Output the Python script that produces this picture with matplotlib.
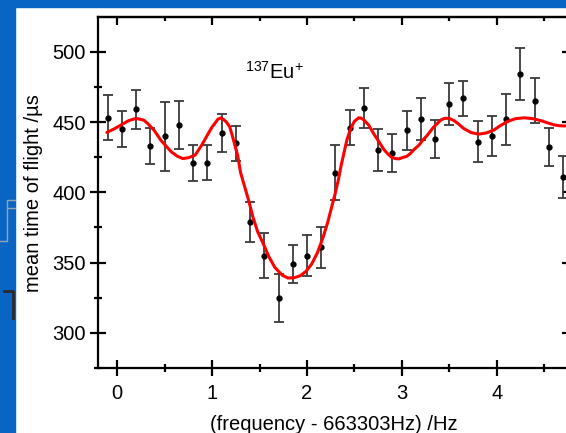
import numpy as np
import matplotlib.pyplot as plt
from matplotlib.lines import Line2D
from matplotlib.ticker import MultipleLocator

plt.rcParams['font.family'] = ['Liberation Sans', 'DejaVu Sans']
plt.rcParams['mathtext.fontset'] = 'custom'
plt.rcParams['mathtext.rm'] = 'Liberation Sans'

# measured points: frequency offset (Hz), mean time of flight (us), error (us)
freq = [-0.10, 0.05, 0.20, 0.35, 0.50, 0.65, 0.80, 0.95, 1.10, 1.25,
        1.40, 1.55, 1.70, 1.85, 2.00, 2.15, 2.30, 2.45, 2.60, 2.75,
        2.90, 3.05, 3.20, 3.35, 3.50, 3.65, 3.80, 3.95, 4.10, 4.25,
        4.40, 4.55, 4.70]
tof = [453, 445, 459, 433, 440, 448, 421, 421, 442, 435,
       379, 355, 325, 349, 355, 361, 414, 446, 460, 430,
       428, 444, 452, 438, 463, 467, 436, 440, 452, 484,
       465, 432, 411]
err = [16, 12.5, 14, 13, 24.5, 17, 12.7, 12.5, 13.5, 12.5,
       14.4, 16, 17, 13.3, 14.8, 14.5, 19.3, 12.4, 14.3, 15,
       13.3, 13.6, 15, 13.3, 15, 12.5, 14.6, 14, 18, 18.5,
       16, 13.6, 15]

# fitted curve
fit_x = [-0.11, -0.03, 0.04, 0.12, 0.20, 0.28, 0.32, 0.39, 0.46, 0.52,
         0.57, 0.63, 0.69, 0.75, 0.82, 0.89, 0.96, 1.00, 1.04, 1.06,
         1.09, 1.12, 1.15, 1.185, 1.21, 1.24, 1.27, 1.30, 1.344, 1.39,
         1.43, 1.48, 1.54, 1.60, 1.66, 1.70, 1.74, 1.80, 1.87, 1.93,
         1.99, 2.05, 2.11, 2.17, 2.22, 2.26, 2.295, 2.33, 2.36, 2.39,
         2.42, 2.455, 2.48, 2.50, 2.545, 2.57, 2.60, 2.62, 2.65, 2.71,
         2.77, 2.81, 2.85, 2.89, 2.93, 2.97, 3.01, 3.05, 3.09, 3.13,
         3.18, 3.22, 3.27, 3.33, 3.41, 3.45, 3.50, 3.55, 3.60, 3.65,
         3.73, 3.81, 3.89, 3.97, 4.04, 4.11, 4.16, 4.20, 4.29, 4.38,
         4.47, 4.54, 4.61, 4.66, 4.72]
fit_y = [442.6, 445.2, 447.9, 451.0, 452.6, 451.3, 449.0, 444.0, 437.0, 432.5,
         428.8, 425.8, 424.0, 424.6, 426.4, 433.5, 441.9, 446.5, 450.0, 452.0,
         452.9, 451.8, 450.0, 446.7, 441.0, 433.5, 426.0, 414.0, 403.8, 393.0,
         382.4, 372.0, 363.3, 354.0, 346.7, 343.8, 341.0, 339.0, 339.3, 340.7,
         343.8, 349.0, 357.0, 368.0, 379.0, 389.5, 398.5, 408.6, 419.0, 428.0,
         437.0, 444.3, 448.0, 450.5, 453.0, 452.8, 451.5, 450.0, 447.9, 441.0,
         434.8, 430.5, 427.5, 425.0, 424.0, 423.8, 424.8, 425.5, 427.6, 430.5,
         433.5, 437.0, 440.7, 446.0, 451.4, 452.6, 452.6, 451.0, 448.5, 445.5,
         442.5, 441.4, 442.2, 444.3, 447.5, 450.2, 451.5, 452.4, 453.0, 452.4,
         450.9, 449.3, 447.9, 447.4, 447.2]

fig = plt.figure(figsize=(5.66, 4.33), dpi=100)
fig.patch.set_facecolor('white')

# slide background strips
fig.add_artist(plt.Rectangle((0, 0), 15 / 566, 1, transform=fig.transFigure,
                             color='#0865c4', zorder=0))
fig.add_artist(plt.Rectangle((0, 1 - 7 / 433), 1, 7 / 433, transform=fig.transFigure,
                             color='#0865c4', zorder=0))
def px_line(xs, ys, c, lw):
    fig.add_artist(Line2D([x / 566 for x in xs], [1 - y / 433 for y in ys],
                          transform=fig.transFigure, color=c, lw=lw))
px_line([15, 7, 7, 0], [200, 200, 241, 241], '#9aa3b0', 1.0)
px_line([7, 15], [208, 208], '#9aa3b0', 1.0)
px_line([4, 13, 13], [291, 291, 318], '#2a2a2a', 2.0)

ax = fig.add_axes([98.3 / 566, 1 - 368.3 / 433, (570 - 98.3) / 566, (368.3 - 17.3) / 433])
ax.set_xlim(-0.200, 4.773)
ax.set_ylim(274.8, 524.5)

ax.errorbar(freq, tof, yerr=err, fmt='o', color='black', ms=3.5,
            ecolor='#3a3a3a', elinewidth=1.3, capsize=3.5, capthick=1.3, zorder=2)
ax.plot(fit_x, fit_y, color='#ff0000', lw=2.2, zorder=3,
        solid_joinstyle='round', solid_capstyle='round')

ax.text(1.66, 485.5, r'$^{137}$Eu$^{+}$', fontsize=14.5, ha='center', va='center')

for s in ax.spines.values():
    s.set_linewidth(1.6)

ax.xaxis.set_major_locator(MultipleLocator(1))
ax.xaxis.set_minor_locator(MultipleLocator(0.5))
ax.yaxis.set_major_locator(MultipleLocator(50))
ax.yaxis.set_minor_locator(MultipleLocator(25))
ax.tick_params(axis='both', which='major', direction='inout', length=12, width=1.6,
               labelsize=14.5, pad=3)
ax.tick_params(axis='both', which='minor', direction='inout', length=5.5, width=1.6)
ax.tick_params(axis='x', which='major', pad=5)

top = ax.secondary_xaxis('top')
top.xaxis.set_major_locator(MultipleLocator(1))
top.xaxis.set_minor_locator(MultipleLocator(0.5))
top.tick_params(which='major', direction='in', length=6, width=1.6, labeltop=False)
top.tick_params(which='minor', direction='in', length=3, width=1.6)
top.spines['top'].set_linewidth(1.6)

right = ax.secondary_yaxis('right')
right.yaxis.set_major_locator(MultipleLocator(50))
right.yaxis.set_minor_locator(MultipleLocator(25))
right.tick_params(which='major', direction='in', length=6, width=1.6, labelright=False)
right.tick_params(which='minor', direction='in', length=3, width=1.6)

ax.set_xlabel('(frequency - 663303Hz) /Hz', fontsize=14.5, labelpad=9)
ax.set_ylabel('mean time of flight /µs', fontsize=14.5, labelpad=7)

fig.savefig('out.png', dpi=100)
